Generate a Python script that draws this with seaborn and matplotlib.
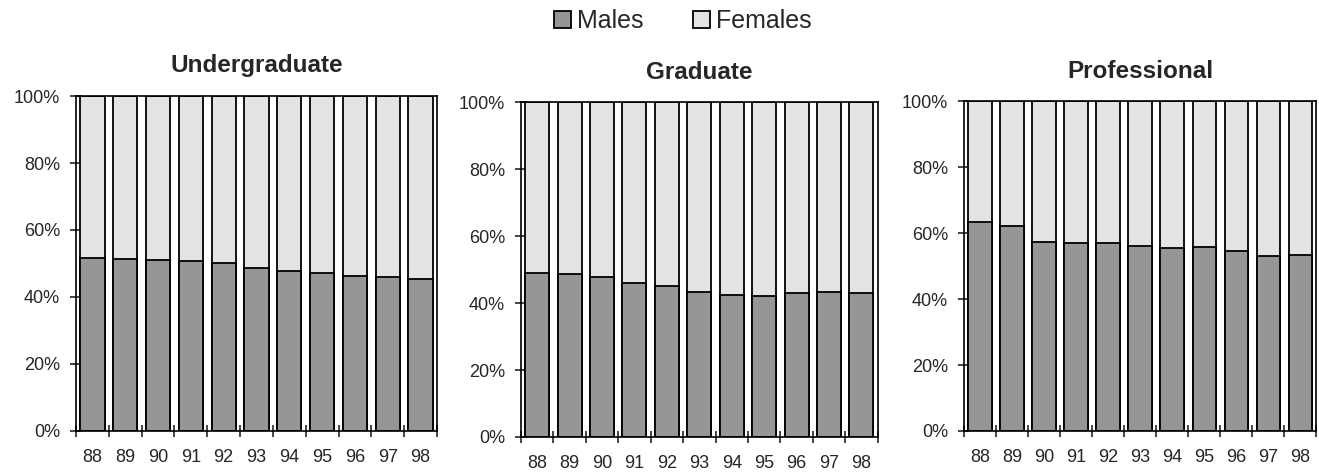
import pandas as pd
import numpy as np
import matplotlib
matplotlib.use("Agg")
import matplotlib.pyplot as plt
from matplotlib.patches import Patch
from matplotlib.ticker import FixedLocator, PercentFormatter
import seaborn as sns

years = ['88', '89', '90', '91', '92', '93', '94', '95', '96', '97', '98']
panels = ['Undergraduate', 'Graduate', 'Professional']
# share of males (%) per year
ug_males = [51.7, 51.3, 51.0, 50.7, 50.0, 48.7, 47.8, 47.2, 46.3, 46.0, 45.4]
grad_males = [49.0, 48.7, 47.8, 46.1, 45.1, 43.3, 42.4, 42.2, 43.1, 43.3, 43.1]
prof_males = [63.4, 62.3, 57.3, 56.9, 57.1, 56.1, 55.4, 55.9, 54.7, 53.2, 53.4]

MALE = '#969696'
FEMALE = '#e3e3e3'

sns.set_style('white')
plt.rcParams['font.family'] = ['Liberation Sans', 'DejaVu Sans']


def stacked_panel(ax, males, title):
    df = pd.DataFrame({'year': years, 'males': males})
    df['total'] = 100.0
    sns.barplot(data=df, x='year', y='total', color=FEMALE, width=0.74,
                edgecolor='black', linewidth=1.3, saturation=1, ax=ax)
    sns.barplot(data=df, x='year', y='males', color=MALE, width=0.74,
                edgecolor='black', linewidth=1.3, saturation=1, ax=ax)
    ax.set_xlim(-0.5, len(years) - 0.5)
    ax.set_ylim(0, 100)
    ax.set_yticks([0, 20, 40, 60, 80, 100])
    ax.yaxis.set_major_formatter(PercentFormatter(decimals=0))
    ax.set_xlabel('')
    ax.set_ylabel('')
    ax.set_title(title, fontsize=17.5, fontweight='bold', pad=17)
    for s in ax.spines.values():
        s.set_visible(True)
        s.set_color('black')
        s.set_linewidth(1.2)
    ax.tick_params(axis='y', which='major', direction='inout', length=9,
                   width=1.2, labelsize=13, pad=7, left=True)
    ax.tick_params(axis='x', which='major', length=0, labelsize=13, pad=13)
    ax.xaxis.set_minor_locator(FixedLocator(np.arange(-0.5, len(years), 1.0)))
    ax.tick_params(axis='x', which='minor', direction='inout', length=9,
                   width=1.2, bottom=True)


fig = plt.figure(figsize=(13.19, 4.72), dpi=100)
positions = [
    [0.0576, 0.0869, 0.2737, 0.7097],
    [0.3950, 0.0742, 0.2704, 0.7091],
    [0.7309, 0.0869, 0.2672, 0.6985],
]
for pos, males, title in zip(positions, [ug_males, grad_males, prof_males], panels):
    ax = fig.add_axes(pos)
    stacked_panel(ax, males, title)

handles = [Patch(facecolor=MALE, edgecolor='black', linewidth=1.3, label='Males'),
           Patch(facecolor=FEMALE, edgecolor='black', linewidth=1.3, label='Females')]
fig.legend(handles=handles, loc='center', bbox_to_anchor=(683 / 1319, 1 - 21 / 472),
           ncol=2, frameon=False, fontsize=18, handlelength=0.65, handleheight=0.65,
           handletextpad=0.25, columnspacing=2.0, borderpad=0)

fig.savefig('out.png', dpi=100)
plt.close(fig)
